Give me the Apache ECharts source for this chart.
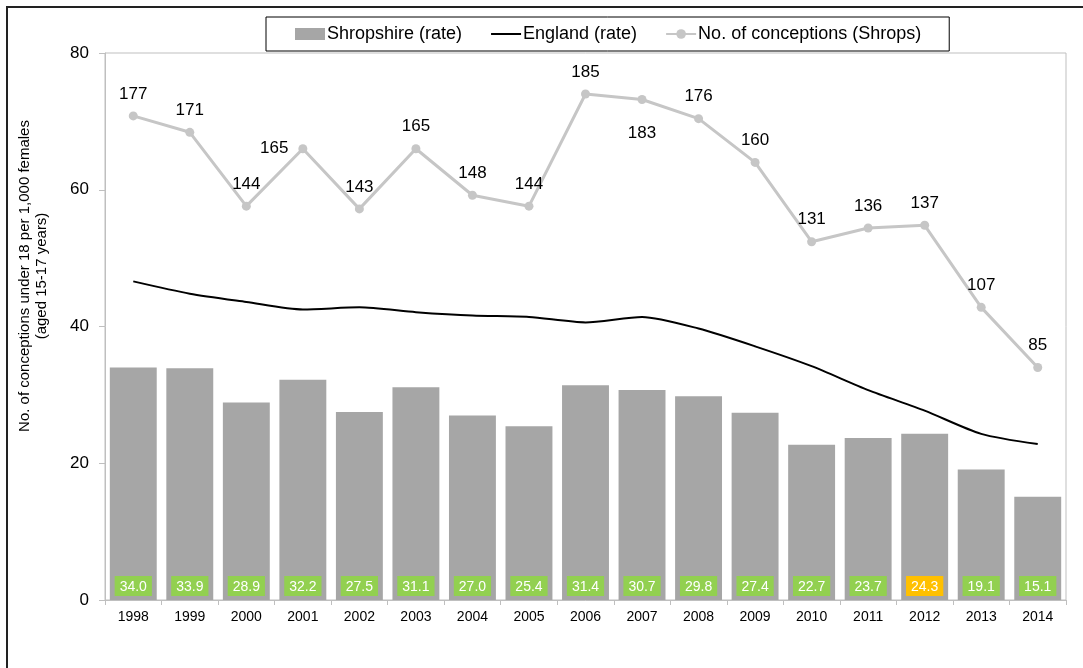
<!DOCTYPE html>
<html>
<head>
<meta charset="utf-8">
<script src="https://cdn.jsdelivr.net/npm/echarts@6/dist/echarts.min.js"></script>
<style>
  html, body { margin: 0; padding: 0; background: #fff; }
  #chart { width: 1083px; height: 668px; }
</style>
</head>
<body>
<div id="chart"></div>
<script>
// years on the x axis
const years = ['1998', '1999', '2000', '2001', '2002', '2003', '2004', '2005', '2006',
  '2007', '2008', '2009', '2010', '2011', '2012', '2013', '2014'];
// Shropshire under-18 conception rate per 1,000
const shropshireRate = [34.0, 33.9, 28.9, 32.2, 27.5, 31.1, 27.0, 25.4, 31.4,
  30.7, 29.8, 27.4, 22.7, 23.7, 24.3, 19.1, 15.1];
// England rate
const englandRate = [46.6, 44.8, 43.6, 42.5, 42.8, 42.1, 41.6, 41.4, 40.6,
  41.4, 39.7, 37.1, 34.2, 30.7, 27.7, 24.3, 22.8];
// number of conceptions in Shropshire
const conceptions = [177, 171, 144, 165, 143, 165, 148, 144, 185,
  183, 176, 160, 131, 136, 137, 107, 85];
const yTicks = [0, 20, 40, 60, 80];

const font = 'Arial, "Liberation Sans", sans-serif';
const chart = echarts.init(document.getElementById('chart'));

// bar labels: green boxes, 2012 highlighted in amber
const barData = shropshireRate.map((v, i) => ({
  value: v,
  label: { backgroundColor: years[i] === '2012' ? '#FFC000' : '#92D050' }
}));

// label placement for the conceptions line (mostly above)
const lineData = conceptions.map((v, i) => {
  const item = { value: v };
  if (years[i] === '2007') item.label = { position: 'bottom', distance: 21 };
  if (years[i] === '2001') item.label = { position: 'left', distance: 10 };
  return item;
});

const option = {
  animation: false,
  textStyle: { fontFamily: font },
  graphic: [
    {
      type: 'rect',
      shape: { x: 7, y: 7, width: 1200, height: 800 },
      style: { fill: 'none', stroke: '#222', lineWidth: 2 },
      silent: true
    },
    {
      type: 'text',
      x: 33,
      y: 276,
      rotation: Math.PI / 2,
      style: {
        text: 'No. of conceptions under 18 per 1,000 females\n(aged 15-17 years)',
        font: '15px ' + font,
        fill: '#000',
        align: 'center',
        verticalAlign: 'middle',
        lineHeight: 17
      }
    }
  ],
  legend: {
    top: 17,
    left: 266,
    padding: [8, 28, 8, 29],
    itemGap: 28,
    itemWidth: 30,
    itemHeight: 12,
    borderColor: '#000',
    borderWidth: 1,
    textStyle: { fontSize: 18, color: '#000', fontFamily: font, padding: [0, 0, 0, -3] },
    data: [
      { name: 'Shropshire (rate)', icon: 'rect', itemStyle: { color: '#a6a6a6' } },
      { name: 'England (rate)', itemStyle: { opacity: 0 } },
      { name: 'No. of conceptions (Shrops)' }
    ]
  },
  grid: {
    left: 105,
    top: 53,
    right: 17,
    bottom: 68,
    show: true,
    borderColor: '#bfbfbf',
    borderWidth: 1
  },
  xAxis: {
    type: 'category',
    data: years,
    boundaryGap: true,
    axisLine: { lineStyle: { color: '#bfbfbf' } },
    axisTick: { show: true, length: 5, lineStyle: { color: '#bfbfbf' } },
    axisLabel: { color: '#000', fontSize: 14, margin: 10 }
  },
  yAxis: [
    {
      type: 'value',
      min: yTicks[0],
      max: yTicks[yTicks.length - 1],
      interval: 20,
      axisLine: { show: true, lineStyle: { color: '#bfbfbf' } },
      axisTick: { show: true, length: 6, lineStyle: { color: '#bfbfbf' } },
      splitLine: { show: false },
      axisLabel: { color: '#000', fontSize: 17, margin: 16 }
    },
    {
      type: 'value',
      min: 0,
      max: 200,
      show: false,
      splitLine: { show: false }
    }
  ],
  series: [
    {
      name: 'Shropshire (rate)',
      type: 'bar',
      data: barData,
      barCategoryGap: '17%',
      itemStyle: { color: '#a6a6a6' },
      label: {
        show: true,
        position: 'insideBottom',
        distance: 4,
        color: '#fff',
        fontSize: 14,
        padding: [4, 5, 2, 5],
        formatter: p => p.value.toFixed(1)
      },
      z: 1
    },
    {
      name: 'England (rate)',
      type: 'line',
      data: englandRate,
      smooth: 0.25,
      symbol: 'none',
      lineStyle: { color: '#000', width: 2 },
      itemStyle: { color: '#000' },
      z: 3
    },
    {
      name: 'No. of conceptions (Shrops)',
      type: 'line',
      yAxisIndex: 1,
      data: lineData,
      symbol: 'circle',
      symbolSize: 9,
      lineStyle: { color: '#c6c6c6', width: 3 },
      itemStyle: { color: '#c6c6c6' },
      label: {
        show: true,
        position: 'top',
        distance: 9,
        color: '#000',
        fontSize: 17
      },
      z: 4
    }
  ]
};

chart.setOption(option);
</script>
</body>
</html>
